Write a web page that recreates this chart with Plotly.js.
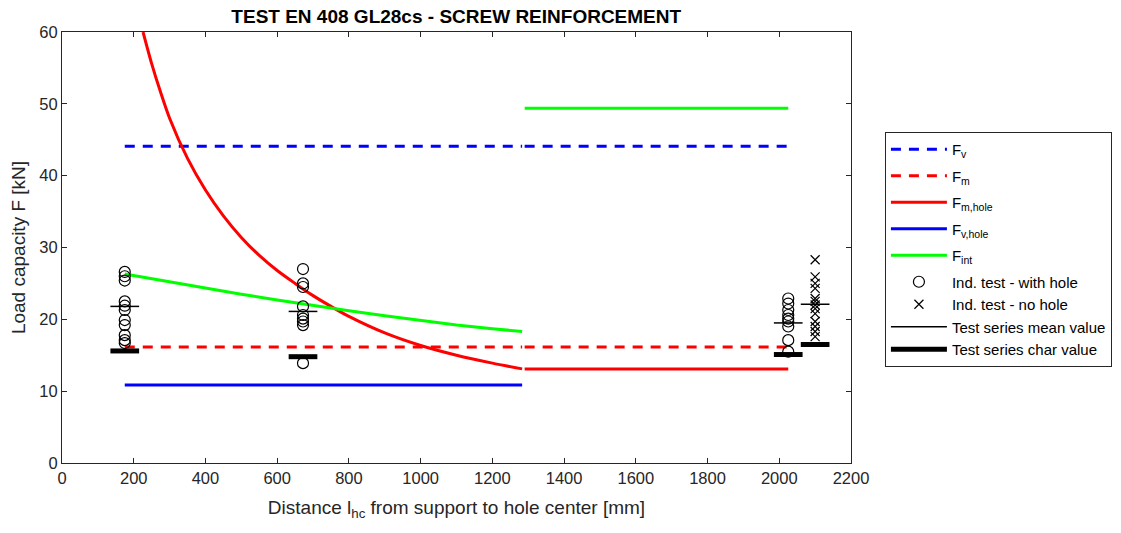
<!DOCTYPE html>
<html>
<head>
<meta charset="utf-8">
<script src="https://cdn.plot.ly/plotly-3.0.1.min.js"></script>
<style>html,body{margin:0;padding:0;background:#fff}#chart{width:1121px;height:533px}</style>
</head>
<body>
<div id="chart"></div>
<script>
// ---- data ----
var segA = [175, 1283];          // left region (mm)
var segB = [1290, 2025];         // right region (mm)
var Fv = 44.1;
var Fm = 16.15;
var FvHole = 10.85;
var FintRight = 49.4;
var FmHoleRight = 13.1;

var fmHoleX = [226, 250, 275, 300, 350, 400, 450, 500, 550, 600, 650, 700, 750, 800, 900, 1000, 1100, 1200, 1283];
var fmHoleY = [60, 55.6, 51.6, 48.0, 42.4, 38.0, 34.4, 31.4, 28.9, 26.8, 25.0, 23.3, 21.8, 20.4, 18.1, 16.35, 15.0, 13.9, 13.1];

var fintX = [175, 300, 400, 500, 600, 700, 800, 900, 1000, 1100, 1200, 1283];
var fintY = [26.3, 25.2, 24.3, 23.5, 22.7, 21.9, 21.2, 20.5, 19.8, 19.2, 18.7, 18.3];

var holeX1 = 175, holeY1 = [26.6, 26.0, 25.4, 22.5, 21.9, 21.3, 19.9, 19.2, 17.8, 17.1, 16.7];
var holeX2 = 672, holeY2 = [27.0, 25.0, 24.5, 21.8, 20.6, 20.1, 19.7, 19.2, 13.9];
var holeX3 = 2025, holeY3 = [22.9, 22.2, 21.3, 20.6, 20.1, 19.7, 19.0, 17.1, 15.5];
var noHoleX = 2100, noHoleY = [28.3, 25.9, 25.0, 24.3, 22.9, 22.5, 22.0, 21.5, 20.8, 19.7, 19.0, 18.3, 17.6];

var groupX = [175, 672, 2025, 2100];
var meanVals = [21.8, 21.1, 19.5, 22.1];
var charVals = [15.6, 14.8, 15.1, 16.5];

var xTicks = [0, 200, 400, 600, 800, 1000, 1200, 1400, 1600, 1800, 2000, 2200];
var yTicks = [0, 10, 20, 30, 40, 50, 60];

// ---- helpers ----
var HALF = 40; // half width of mean/char bars in mm
function twoSeg(vA, vB) { return {x: [segA[0], segA[1], null, segB[0], segB[1]], y: [vA, vA, null, vB, vB]}; }
function bars(vals) {
  var x = [], y = [];
  for (var i = 0; i < groupX.length; i++) {
    x.push(groupX[i] - HALF, groupX[i] + HALF, null);
    y.push(vals[i], vals[i], null);
  }
  return {x: x, y: y};
}
function rep(v, n) { var a = []; for (var i = 0; i < n; i++) a.push(v); return a; }

var FONT = 'Liberation Sans, Arial, sans-serif';
var dash = '10px,8px';
var fvS = twoSeg(Fv, Fv), fmS = twoSeg(Fm, Fm);
var hx = [].concat(rep(holeX1, holeY1.length), rep(holeX2, holeY2.length), rep(holeX3, holeY3.length));
var hy = [].concat(holeY1, holeY2, holeY3);
var mB = bars(meanVals), cB = bars(charVals);

var traces = [
  {x: fvS.x, y: fvS.y, mode: 'lines', name: 'F<sub>v</sub>', legendgroup: 'g1', line: {color: '#0000ff', width: 3, dash: dash}},
  {x: fmS.x, y: fmS.y, mode: 'lines', name: 'F<sub>m</sub>', legendgroup: 'g2', line: {color: '#ff0000', width: 3, dash: dash}},
  {x: fmHoleX.concat([null], segB), y: fmHoleY.concat([null, FmHoleRight, FmHoleRight]), mode: 'lines', name: 'F<sub>m,hole</sub>', legendgroup: 'g3', line: {color: '#ff0000', width: 3, shape: 'spline', smoothing: 0.8}},
  {x: segA, y: [FvHole, FvHole], mode: 'lines', name: 'F<sub>v,hole</sub>', legendgroup: 'g4', line: {color: '#0000ff', width: 3}},
  {x: fintX.concat([null], segB), y: fintY.concat([null, FintRight, FintRight]), mode: 'lines', name: 'F<sub>int</sub>', legendgroup: 'g5', line: {color: '#00ff00', width: 3}},
  {x: hx, y: hy, mode: 'markers', name: 'Ind. test - with hole', legendgroup: 'g6', marker: {symbol: 'circle-open', size: 11, color: '#000', line: {width: 1.2, color: '#000'}}},
  {x: rep(noHoleX, noHoleY.length), y: noHoleY, mode: 'markers', name: 'Ind. test - no hole', legendgroup: 'g6', marker: {symbol: 'x-thin-open', size: 9, color: '#000', line: {width: 1.2, color: '#000'}}},
  {x: mB.x, y: mB.y, mode: 'lines', name: 'Test series mean value', legendgroup: 'g6', line: {color: '#000', width: 1.5}},
  {x: cB.x, y: cB.y, mode: 'lines', name: 'Test series char value', legendgroup: 'g6', line: {color: '#000', width: 5}}
];

var axisCommon = {
  showline: true, linecolor: '#262626', linewidth: 1, mirror: 'ticks',
  ticks: 'inside', ticklen: 5, tickcolor: '#262626', showgrid: false, zeroline: false,
  tickfont: {family: FONT, size: 16.5, color: '#262626'}
};

var layout = {
  width: 1121, height: 533,
  margin: {l: 62, r: 270, t: 32, b: 70, autoexpand: false},
  paper_bgcolor: '#fff', plot_bgcolor: '#fff',
  font: {family: FONT, color: '#000'},
  title: {text: '<b>TEST EN 408 GL28cs - SCREW REINFORCEMENT</b>', x: 0.407, xanchor: 'center', y: 0.97, yanchor: 'middle',
          font: {family: FONT, size: 19, color: '#000'}},
  xaxis: Object.assign({}, axisCommon, {range: [0, 2200], tickvals: xTicks, ticktext: xTicks.map(String),
          title: {text: 'Distance l<sub>hc</sub> from support to hole center [mm]', standoff: 14,
                  font: {family: FONT, size: 19, color: '#262626'}}}),
  yaxis: Object.assign({}, axisCommon, {range: [0, 60], tickvals: yTicks, ticktext: yTicks.map(String),
          title: {text: 'Load capacity F [kN]', standoff: 8,
                  font: {family: FONT, size: 19, color: '#262626'}}}),
  legend: {x: 1.043, xanchor: 'left', y: 0.768, yanchor: 'top', bgcolor: '#fff', bordercolor: '#262626', borderwidth: 1,
           font: {family: FONT, size: 15, color: '#000'}, itemwidth: 56, tracegroupgap: 4, traceorder: 'grouped'},
  showlegend: true
};

Plotly.newPlot('chart', traces, layout, {displayModeBar: false, staticPlot: true});
</script>
</body>
</html>
